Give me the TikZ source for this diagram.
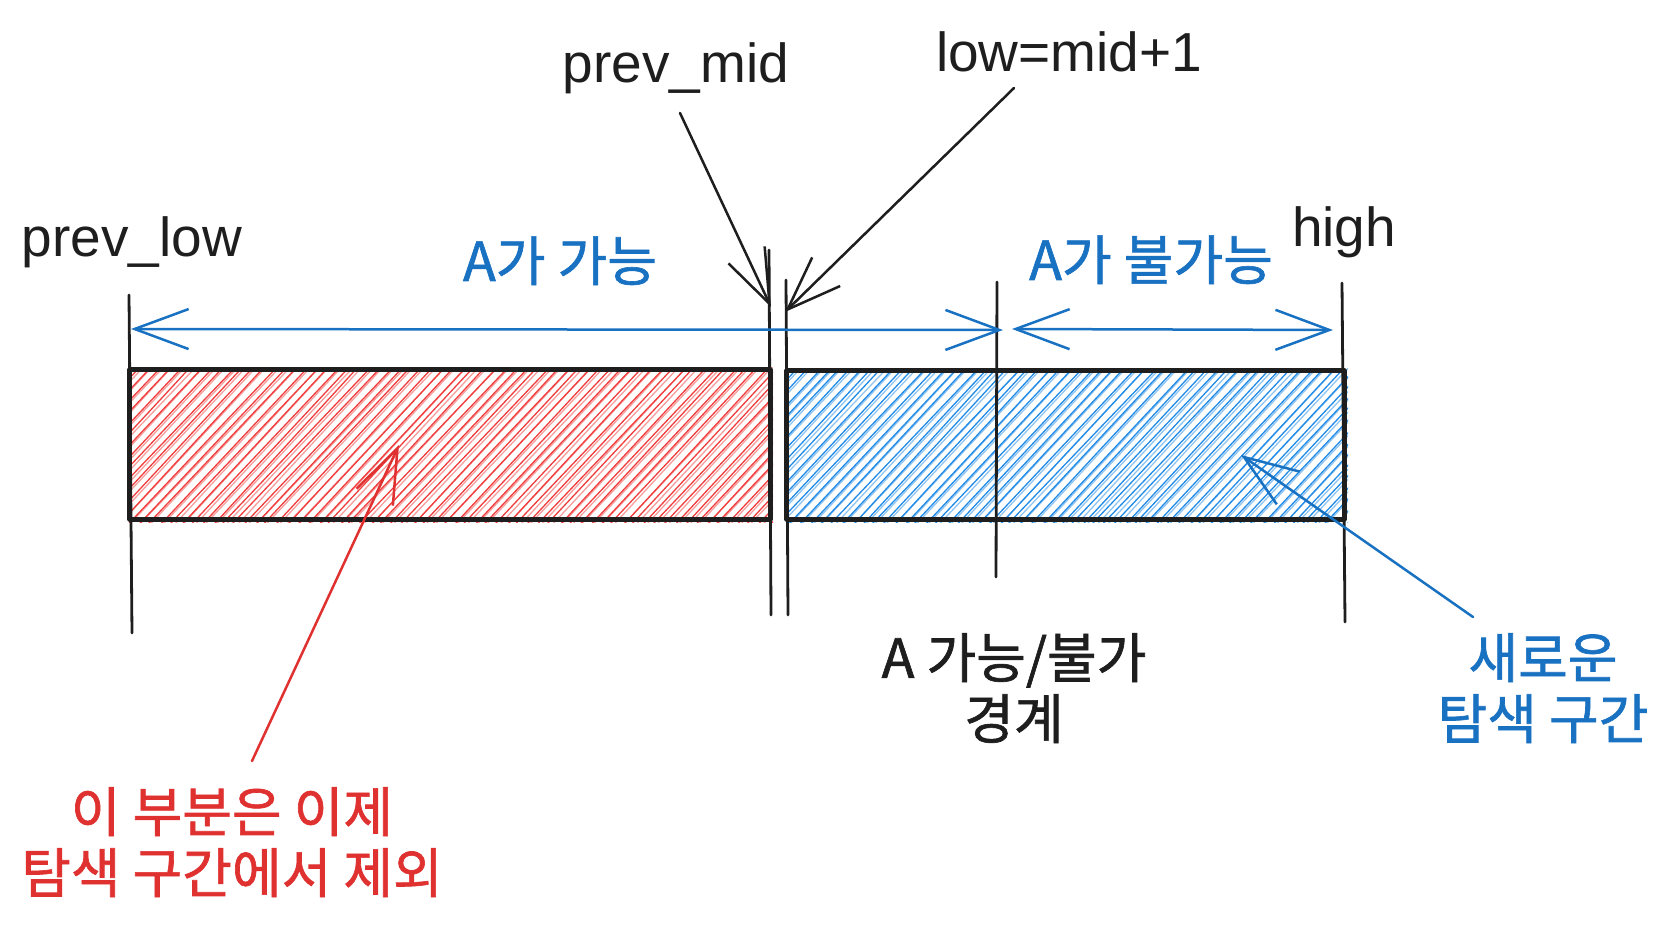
\documentclass[tikz,border=0pt]{standalone}
\usepackage{fontspec}
\setmainfont{Liberation Sans}
\newfontfamily\kr[FakeBold=1.2]{Noto Sans CJK KR}
\usetikzlibrary{arrows.meta}
\definecolor{ink}{HTML}{1E1E1E}
\definecolor{myred}{HTML}{E03131}
\definecolor{myblue}{HTML}{1971C2}
\definecolor{hatchred}{HTML}{F03E3E}
\definecolor{hatchblue}{HTML}{228BE6}
\tikzset{
  lbl/.style={inner sep=0pt, text=ink, font=\fontsize{55}{60}\selectfont},
  krlbl/.style={inner sep=0pt, align=center, font=\kr\fontsize{54}{61}\selectfont},
  barb/.tip={Straight Barb[length=54pt, width=40pt]},
  conn/.style={line width=2.5pt, line cap=round, line join=round, -barb},
  dconn/.style={line width=2.5pt, line cap=round, barb-barb},
  tick/.style={ink, line width=2.8pt, line cap=round},
  bar/.style={inner sep=0pt},
  hred/.style={hatchred, line width=1.3pt},
  hblue/.style={hatchblue, line width=1.3pt},
  border/.style={ink, line width=4.8pt, line join=round},
}
\begin{document}
\begin{tikzpicture}[x=1pt, y=-1pt]
\useasboundingbox (0,0) rectangle (1668,933);
\pgfmathsetseed{11}
% bars
\node[bar, minimum width=640pt, minimum height=149pt] (excl) at (450,444.5) {};
\node[bar, minimum width=557pt, minimum height=148pt] (newr) at (1065.5,445) {};
% hatching
\begin{scope}
  \clip ([shift={(-1,-2)}]excl.north west) rectangle ([shift={(3,3)}]excl.south east);
  \foreach \i in {0,...,76}{
    \pgfmathsetmacro{\xo}{-20+\i*10.5}
    \draw[hred] ({\xo+rand*2},526) -- ({\xo+150+rand*2},366);
    \draw[hred, opacity=.5] ({\xo+2.5+rand*2},526) -- ({\xo+152.5+rand*2},366);
  }
\end{scope}
\begin{scope}
  \clip ([shift={(-1,-2)}]newr.north west) rectangle ([shift={(4,3)}]newr.south east);
  \foreach \i in {0,...,68}{
    \pgfmathsetmacro{\xo}{630+\i*10.5}
    \draw[hblue] ({\xo+rand*2},526) -- ({\xo+150+rand*2},366);
    \draw[hblue, opacity=.5] ({\xo+2.5+rand*2},526) -- ({\xo+152.5+rand*2},366);
  }
\end{scope}
\draw[border] (excl.north west) rectangle (excl.south east);
\draw[border] (newr.north west) rectangle (newr.south east);

% vertical ticks
\coordinate (t1a) at (129,295); \coordinate (t1b) at (132,633);
\coordinate (t2a) at (769,250); \coordinate (t2b) at (771,615);
\coordinate (t3a) at (786,280); \coordinate (t3b) at (788,615);
\coordinate (t4a) at (997,282); \coordinate (t4b) at (996,577);
\coordinate (t5a) at (1342,283); \coordinate (t5b) at (1345,622);
\foreach \a/\b in {t1a/t1b,t2a/t2b,t3a/t3b,t4a/t4b,t5a/t5b}
  \draw[tick] (\a) -- (\b);

% labels
\node[lbl, anchor=base] (plow) at (132,257) {prev\_low};
\node[lbl, anchor=base] (pmid) at (676,83) {prev\_mid};
\node[lbl, anchor=base] (lowm) at (1069,72) {low=mid+1};
\node[lbl, anchor=base] (high) at (1344,247) {high};
\node[krlbl, text=myblue, anchor=base] (apos) at (560,281) {A가 가능};
\node[krlbl, text=myblue, anchor=base] (aimp) at (1151,280) {A가 불가능};
\node[krlbl, text=ink, anchor=north] (bnd) at (1014,633) {A 가능/불가\\경계};
\node[krlbl, text=myblue, anchor=north] (newl) at (1543,633) {새로운\\탐색 구간};
\node[krlbl, text=myred, anchor=north] (exl) at (232,787) {이 부분은 이제\\탐색 구간에서 제외};

% range arrows
\coordinate (r1a) at (131,329); \coordinate (r1b) at (1003,330);
\coordinate (r2a) at (1012,329); \coordinate (r2b) at (1333,330);
\draw[dconn, myblue] (r1a) -- (r1b);
\draw[dconn, myblue] (r2a) -- (r2b);

% pointer arrows
\coordinate (pm1) at (680,113); \coordinate (pm2) at (771,307);
\coordinate (lm1) at (1014,88); \coordinate (lm2) at (785,312);
\coordinate (ra1) at (252,761); \coordinate (ra2) at (399,445);
\coordinate (ba1) at (1473,617); \coordinate (ba2) at (1241,455);
\draw[conn, ink] (pm1) -- (pm2);
\draw[conn, ink] (lm1) -- (lm2);
\draw[conn, myred] (ra1) -- (ra2);
\draw[conn, myblue] (ba1) -- (ba2);
\end{tikzpicture}
\end{document}
